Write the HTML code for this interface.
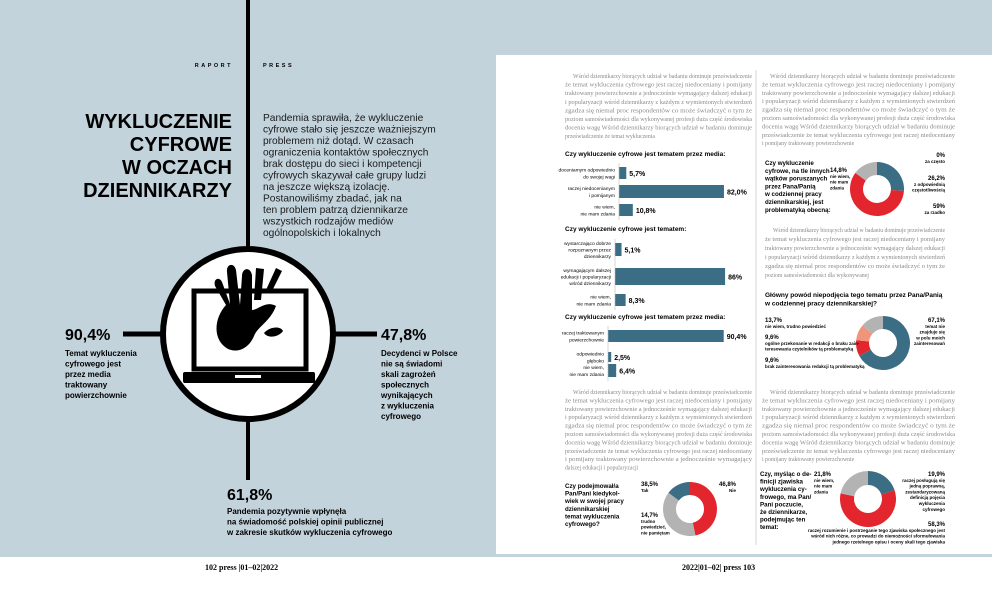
<!DOCTYPE html>
<html><head><meta charset="utf-8"><style>
html,body{margin:0;padding:0;background:#fff}
svg{display:block}
text{font-family:"Liberation Sans",sans-serif}
.serif{font-family:"Liberation Serif",serif}
</style></head><body>
<svg id="s" width="992" height="611" viewBox="0 0 992 611" xmlns="http://www.w3.org/2000/svg">
<rect x="0" y="0" width="992" height="557" fill="#c3d3dc"/>
<rect x="496" y="55" width="496" height="499" fill="#fff"/>
<g>
<line x1="248" y1="0" x2="248" y2="250" stroke="#000" stroke-width="4"/>
<line x1="248" y1="418" x2="248" y2="480" stroke="#000" stroke-width="4"/>
<line x1="123" y1="334" x2="163" y2="334" stroke="#000" stroke-width="5"/>
<line x1="333" y1="334" x2="377" y2="334" stroke="#000" stroke-width="5"/>
<circle cx="248" cy="334" r="85" fill="#fff" stroke="#000" stroke-width="6"/>
<g>
<rect x="194" y="291" width="112" height="78" fill="none" stroke="#000" stroke-width="5"/>
<rect x="183" y="372" width="132" height="11" rx="2" fill="#000"/>
<rect x="235" y="375" width="26" height="3" fill="#fff"/>
<path d="M226 305 C214 318 212 340 228 349 C240 354 250 346 254 336 C258 326 270 322 276 306 C266 300 258 310 252 310 L252 275 C250 266 242 268 242 276 L240 305 L236 270 C234 262 226 264 227 272 L230 304 L222 282 C219 276 213 279 215 286 Z" fill="#000"/>
<path d="M256 268 L254 300 L261 300 L264 269 Z M266 290 L276 268 L282 271 L271 293 Z M264 333 C270 326 281 326 283 331 C279 337 268 339 264 333 Z" fill="#000"/>
</g>
<text x="233" y="67" font-size="5.5" font-weight="bold" text-anchor="end" letter-spacing="2.5">RAPORT</text>
<text x="263" y="67" font-size="5.5" font-weight="bold" letter-spacing="2.5">PRESS</text>
<g font-size="20" font-weight="bold" text-anchor="end">
<text x="232" y="128">WYKLUCZENIE</text>
<text x="232" y="151">CYFROWE</text>
<text x="232" y="174">W OCZACH</text>
<text x="232" y="197">DZIENNIKARZY</text>
</g>
<g font-size="10.2" fill="#1a1a1a">
<text x="263" y="121">Pandemia sprawiła, że wykluczenie</text>
<text x="263" y="132.5">cyfrowe stało się jeszcze ważniejszym</text>
<text x="263" y="144">problemem niż dotąd. W czasach</text>
<text x="263" y="155.5">ograniczenia kontaktów społecznych</text>
<text x="263" y="167">brak dostępu do sieci i kompetencji</text>
<text x="263" y="178.5">cyfrowych skazywał całe grupy ludzi</text>
<text x="263" y="190">na jeszcze większą izolację.</text>
<text x="263" y="201.5">Postanowiliśmy zbadać, jak na</text>
<text x="263" y="213">ten problem patrzą dziennikarze</text>
<text x="263" y="224.5">wszystkich rodzajów mediów</text>
<text x="263" y="236">ogólnopolskich i lokalnych</text>
</g>
<g>
<text x="65" y="340" font-size="16" font-weight="bold">90,4%</text>
<g font-size="8" font-weight="bold"><text x="65" y="356">Temat wykluczenia</text><text x="65" y="366.5">cyfrowego jest</text><text x="65" y="377">przez media</text><text x="65" y="387.5">traktowany</text><text x="65" y="398">powierzchownie</text></g>
</g>
<g>
<text x="381" y="340" font-size="16" font-weight="bold">47,8%</text>
<g font-size="8" font-weight="bold"><text x="381" y="356">Decydenci w Polsce</text><text x="381" y="366.5">nie są świadomi</text><text x="381" y="377">skali zagrożeń</text><text x="381" y="387.5">społecznych</text><text x="381" y="398">wynikających</text><text x="381" y="408.5">z wykluczenia</text><text x="381" y="419">cyfrowego</text></g>
</g>
<g>
<text x="227" y="500" font-size="16" font-weight="bold">61,8%</text>
<g font-size="8" font-weight="bold"><text x="227" y="514">Pandemia pozytywnie wpłynęła</text><text x="227" y="524.5">na świadomość polskiej opinii publicznej</text><text x="227" y="535">w zakresie skutków wykluczenia cyfrowego</text></g>
</g>
<text class="serif" x="205" y="570" font-size="8" font-weight="bold">102  press  |01–02|2022</text>
</g>
<g id="rp">
<line x1="756" y1="70" x2="756" y2="545" stroke="#bbb" stroke-width="0.6"/>
<text class="serif" x="682" y="570" font-size="8" font-weight="bold">2022|01–02|  press  103</text>
</g>
</svg>
<script>
// ---- chart data ----
const bar1Cats=["doceniamym odpowiednio|do swojej wagi","raczej niedocenianym|i pomijanym","nie wiem,|nie mam zdania"];
const bar1Vals=[5.7,82.0,10.8];
const bar1Labels=["5,7%","82,0%","10,8%"];
const bar2Cats=["wystarczająco dobrze|rozpoznanym przez|dziennikarzy","wymagającym dalszej|edukacji i popularyzacji|wśród dziennikarzy","nie wiem,|nie mam zdania"];
const bar2Vals=[5.1,86,8.3];
const bar2Labels=["5,1%","86%","8,3%"];
const bar3Cats=["raczej traktowanym|powierzchownie","odpowiednio|głęboko","nie wiem,|nie mam zdania"];
const bar3Vals=[90.4,2.5,6.4];
const bar3Labels=["90,4%","2,5%","6,4%"];
const donut1Vals=[0.001,26.2,59,14.8];
const donut1Colors=["#3b6e84","#3b6e84","#e3262d","#b3b3b3"];
const donut2Vals=[67.1,9.6,9.6,13.7];
const donut2Colors=["#3b6e84","#e3262d","#f0947a","#b3b3b3"];
const donut3Vals=[46.8,38.5,14.7];
const donut3Colors=["#e3262d","#b3b3b3","#3b6e84"];
const donut4Vals=[19.9,58.3,21.8];
const donut4Colors=["#3b6e84","#e3262d","#b3b3b3"];

const NS="http://www.w3.org/2000/svg";
const rp=document.getElementById('rp');
function mk(tag,attrs,txt,parent){const e=document.createElementNS(NS,tag);for(const k in attrs)e.setAttribute(k,attrs[k]);if(txt!=null)e.textContent=txt;(parent||rp).appendChild(e);return e;}

function barChart(name,title,ty,ax,ys,hs,cats,vals,labels){
  const g=mk('g',{});
  
  
  mk('text',{x:565,y:ty,'font-size':6.5,'font-weight':'bold'},title,g);
  const sc=1.28;
  mk('line',{x1:ax,y1:ys[0]-4,x2:ax,y2:ys[ys.length-1]+hs[hs.length-1]+4,stroke:'#bbb','stroke-width':0.6},g);
  vals.forEach((v,i)=>{
    const r=mk('rect',{x:ax,y:ys[i],width:v*sc,height:hs[i],fill:'#3b6e84'},null,g);
    
    
    mk('text',{x:ax+v*sc+3,y:ys[i]+hs[i]/2+3,'font-size':7,'font-weight':'bold'},labels[i],g);
    const ls=cats[i].split('|');
    ls.forEach((l,j)=>mk('text',{x:ax-4,y:ys[i]+hs[i]/2+2-(ls.length-1)*3.3+j*6.6,'font-size':4.9,'text-anchor':'end'},l,g));
  });
}
barChart('bar-chart-media-topic','Czy wykluczenie cyfrowe jest tematem przez media:',156,619,[167,185,204],[12,13,12],bar1Cats,bar1Vals,bar1Labels);
barChart('bar-chart-topic','Czy wykluczenie cyfrowe jest tematem:',231,615,[243,268,294],[13,17,12],bar2Cats,bar2Vals,bar2Labels);
barChart('bar-chart-media-treatment','Czy wykluczenie cyfrowe jest tematem przez media:',319,608,[330,352,364],[12,10,13],bar3Cats,bar3Vals,bar3Labels);

function donut(name,cx,cy,R,r,vals,cols){
  const g=mk('g',{});
  
  
  const tot=vals.reduce((a,b)=>a+b,0);let a0=-Math.PI/2;
  vals.forEach((v,i)=>{
    const a1=a0+v/tot*2*Math.PI;const lg=(a1-a0)>Math.PI?1:0;
    const p=`M${cx+R*Math.cos(a0)} ${cy+R*Math.sin(a0)} A${R} ${R} 0 ${lg} 1 ${cx+R*Math.cos(a1)} ${cy+R*Math.sin(a1)} L${cx+r*Math.cos(a1)} ${cy+r*Math.sin(a1)} A${r} ${r} 0 ${lg} 0 ${cx+r*Math.cos(a0)} ${cy+r*Math.sin(a0)}Z`;
    const s=mk('path',{d:p,fill:cols[i]},null,g);
    
    
    a0=a1;
  });
}
donut('donut-problem',877,189,27,14,donut1Vals,donut1Colors);
donut('donut-reason',883,343,27,14,donut2Vals,donut2Colors);
donut('donut-undertook',690,509,27,14,donut3Vals,donut3Colors);
donut('donut-definition',868,499,28,14,donut4Vals,donut4Colors);

function lines(x,y,arr,fs,lh){arr.forEach((t,i)=>mk('text',{x:x,y:y+i*lh,'font-size':fs,'font-weight':'bold'},t));}
function note(x,y,arr,anchor){arr.forEach((t,i)=>mk('text',{x:x,y:y+i*5.8,'font-size':(i==0?6:4.5),'font-weight':'bold','text-anchor':anchor||'start'},t));}
// donut 1 labels
lines(765,165,["Czy wykluczenie","cyfrowe, na tle innych","wątków poruszanych","przez Pana/Panią","w codziennej pracy","dziennikarskiej, jest","problematyką obecną:"],6.2,7.8);
note(830,172,["14,8%","nie wiem,","nie mam","zdania"]);
note(945,157,["0%","za często"],'end');note(945,180,["26,2%","z odpowiednią","częstotliwością"],'end');note(945,208,["59%","za rzadko"],'end');
// donut 2
lines(765,297,["Główny powód niepodjęcia tego tematu przez Pana/Panią","w codziennej pracy dziennikarskiej?"],6.5,8.5);
note(765,322,["13,7%","nie wiem, trudno powiedzieć"]);note(765,339,["9,6%","ogólne przekonanie w redakcji o braku zain-","teresowania czytelników tą problematyką"]);note(765,362,["9,6%","brak zainteresowania redakcji tą problematyką"]);
note(945,322,["67,1%","temat nie","znajduje się","w polu moich","zainteresowań"],'end');
// donut 3
lines(565,488,["Czy podejmował/a","Pan/Pani kiedykol-","wiek w swojej pracy","dziennikarskiej","temat wykluczenia","cyfrowego?"],6.2,7.6);
note(641,486,["38,5%","Tak"]);note(736,486,["46,8%","Nie"],'end');note(641,517,["14,7%","trudno","powiedzieć,","nie pamiętam"]);
// donut 4
lines(760,476,["Czy, myśląc o de-","finicji zjawiska","wykluczenia cy-","frowego, ma Pan/","Pani poczucie,","że dziennikarze,","podejmując ten","temat:"],6.2,7.6);
note(814,476,["21,8%","nie wiem,","nie mam","zdania"]);note(945,476,["19,9%","raczej posługują się","jedną poprawną,","zestandaryzowaną","definicją pojęcia","wykluczenia","cyfrowego"],'end');
note(945,526,["58,3%","raczej rozumienie i postrzeganie tego zjawiska społecznego jest","wśród nich różne, co prowadzi do niemożności sformułowania","jednego rzetelnego opisu i oceny skali tego zjawiska"],'end');

// body paragraphs
const words="Wśród dziennikarzy biorących udział w badaniu dominuje przeświadczenie że temat wykluczenia cyfrowego jest raczej niedoceniany i pomijany traktowany powierzchownie a jednocześnie wymagający dalszej edukacji i popularyzacji wśród dziennikarzy z każdym z wymienionych stwierdzeń zgadza się niemal proc respondentów co może świadczyć o tym że poziom samoświadomości dla wykonywanej profesji duża część środowiska docenia wagę".split(' ');
function para(name,x,y,w,n,lh){
  const g=mk('g',{});
  
  
  let k=0;
  for(let i=0;i<n;i++){
    let s='';while(s.length<(i==n-1?28:62)){s+=words[k%words.length]+' ';k++;}
    const last=i==n-1;
    const t=mk('text',{x:x+(i==0?8:0),y:y+i*lh,'font-size':5.8,fill:'#8a8a8a',class:'serif'},s.trim(),g);
    if(!last){t.setAttribute('textLength',w-(i==0?8:0));t.setAttribute('lengthAdjust','spacingAndGlyphs');}
  }
}
para('paragraph-1',565,78,187,8,8.6);
para('paragraph-2',762,78,193,9,8.4);
para('paragraph-3',765,232,180,6,9);
para('paragraph-4',565,394,187,10,8.4);
para('paragraph-5',762,394,193,9,8.4);
</script>
</body></html>
